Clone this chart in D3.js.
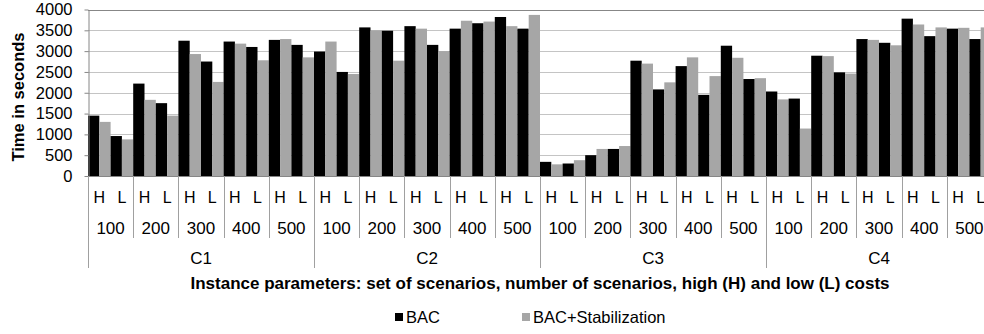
<!DOCTYPE html>
<html>
<head>
<meta charset="utf-8">
<script src="https://cdn.jsdelivr.net/npm/d3@7"></script>
<style>
  html, body { margin: 0; padding: 0; background: #fff; }
  svg { display: block; font-family: "Liberation Sans", Arial, sans-serif; }
</style>
</head>
<body>
<svg id="chart" width="984" height="334"></svg>
<script>
// Instance structure: set of scenarios, number of scenarios, cost level
const sets = ["C1", "C2", "C3", "C4"];
const sizes = ["100", "200", "300", "400", "500"];
const costs = ["H", "L"];

// Running times in seconds, ordered set > size > cost
const bac = [
  1450, 960, 2220, 1750, 3250, 2750, 3230, 3100, 3270, 3150,
  2990, 2500, 3570, 3490, 3600, 3150, 3540, 3670, 3820, 3540,
  340, 300, 500, 650, 2770, 2080, 2640, 1950, 3130, 2330,
  2030, 1860, 2890, 2490, 3290, 3200, 3780, 3360, 3540, 3290
];
const bacStab = [
  1300, 880, 1830, 1450, 2930, 2260, 3180, 2780, 3290, 2850,
  3230, 2450, 3500, 2770, 3540, 3000, 3730, 3710, 3600, 3870,
  280, 380, 650, 720, 2700, 2250, 2850, 2400, 2840, 2350,
  1840, 1140, 2880, 2460, 3270, 3140, 3640, 3570, 3560, 3570
];

const seriesNames = ["BAC", "BAC+Stabilization"];
const seriesColors = ["#000000", "#a6a6a6"];
const yTicks = [0, 500, 1000, 1500, 2000, 2500, 3000, 3500, 4000];

const svg = d3.select("#chart");
const plotLeft = 88, plotRight = 992, plotTop = 9.5, plotBottom = 176;

// Build category records
const cats = [];
sets.forEach(s => sizes.forEach(n => costs.forEach(c => {
  cats.push({ id: s + "-" + n + "-" + c, set: s, size: n, cost: c });
})));
cats.forEach((d, i) => { d.values = [bac[i], bacStab[i]]; });

const x = d3.scaleBand().domain(cats.map(d => d.id)).range([plotLeft, plotRight]).padding(0);
const xInner = d3.scaleBand().domain([0, 1]).range([0, x.bandwidth()]).padding(0);
const y = d3.scaleLinear().domain([0, 4000]).range([plotBottom, plotTop]);

// Gridlines
svg.append("g").selectAll("line").data(yTicks.filter(t => t > 0)).join("line")
  .attr("x1", plotLeft).attr("x2", plotRight)
  .attr("y1", d => Math.round(y(d)) + 0.5).attr("y2", d => Math.round(y(d)) + 0.5)
  .attr("stroke", d => d === 4000 ? "#878787" : "#c4c4c4")
  .attr("stroke-width", 1);

// Bars
const groups = svg.append("g").selectAll("g").data(cats).join("g")
  .attr("transform", d => `translate(${x(d.id)},0)`);
groups.selectAll("rect").data(d => d.values.map((v, k) => ({ v, k }))).join("rect")
  .attr("x", d => xInner(d.k))
  .attr("width", xInner.bandwidth())
  .attr("y", d => y(d.v))
  .attr("height", d => y(0) - y(d.v))
  .attr("fill", d => seriesColors[d.k]);

// Y axis
const yAxis = svg.append("g").attr("transform", `translate(${plotLeft + 0.5},0)`)
  .call(d3.axisLeft(y).tickValues(yTicks).tickFormat(d3.format("d"))
    .tickSize(4).tickSizeOuter(0).tickPadding(12));
yAxis.select(".domain").attr("stroke", "#868686");
yAxis.selectAll(".tick line").attr("stroke", "#868686");
yAxis.selectAll(".tick text").attr("font-size", 16.5).attr("fill", "#000")
  .attr("font-family", "Liberation Sans, Arial, sans-serif");

// X axis baseline
svg.append("line").attr("x1", plotLeft).attr("x2", plotRight)
  .attr("y1", plotBottom + 0.5).attr("y2", plotBottom + 0.5).attr("stroke", "#868686");

// Cost labels (H / L)
svg.append("g").selectAll("text").data(cats).join("text")
  .attr("x", d => x(d.id) + x.bandwidth() / 2)
  .attr("y", 197).attr("dy", "0.35em")
  .attr("text-anchor", "middle").attr("font-size", 16)
  .text(d => d.cost);

// Size labels and separators
const sizeGroups = [];
sets.forEach(s => sizes.forEach(n => sizeGroups.push({ set: s, size: n })));
const xSize = d3.scaleBand().domain(sizeGroups.map(d => d.set + "-" + d.size)).range([plotLeft, plotRight]).padding(0);
svg.append("g").selectAll("text").data(sizeGroups).join("text")
  .attr("x", d => xSize(d.set + "-" + d.size) + xSize.bandwidth() / 2)
  .attr("y", 228).attr("dy", "0.35em")
  .attr("text-anchor", "middle").attr("font-size", 17)
  .text(d => d.size);
svg.append("g").selectAll("line").data(sizeGroups).join("line")
  .attr("x1", d => Math.round(xSize(d.set + "-" + d.size)) + 0.5)
  .attr("x2", d => Math.round(xSize(d.set + "-" + d.size)) + 0.5)
  .attr("y1", plotBottom).attr("y2", d => d.size === sizes[0] ? 268 : 238)
  .attr("stroke", "#a0a0a0");

// Set labels
const xSet = d3.scaleBand().domain(sets).range([plotLeft, plotRight]).padding(0);
svg.append("g").selectAll("text").data(sets).join("text")
  .attr("x", d => xSet(d) + xSet.bandwidth() / 2)
  .attr("y", 258).attr("dy", "0.35em")
  .attr("text-anchor", "middle").attr("font-size", 17)
  .text(d => d);

// Axis titles
svg.append("text")
  .attr("x", (plotLeft + plotRight) / 2).attr("y", 283).attr("dy", "0.35em")
  .attr("text-anchor", "middle").attr("font-size", 17).attr("font-weight", "bold")
  .text("Instance parameters: set of scenarios, number of scenarios, high (H) and low (L) costs");
svg.append("text")
  .attr("transform", "translate(18,97) rotate(-90)").attr("dy", "0.35em")
  .attr("text-anchor", "middle").attr("font-size", 16.5).attr("font-weight", "bold")
  .text("Time in seconds");

// Legend
const legendX = [395, 522];
const legend = svg.append("g").selectAll("g").data(seriesNames).join("g")
  .attr("transform", (d, i) => `translate(${legendX[i]},317)`);
legend.append("rect").attr("x", 0).attr("y", -4).attr("width", 8).attr("height", 8)
  .attr("fill", (d, i) => seriesColors[i]);
legend.append("text").attr("x", 11).attr("y", 0).attr("dy", "0.35em")
  .attr("font-size", 16.5).text(d => d);
</script>
</body>
</html>
